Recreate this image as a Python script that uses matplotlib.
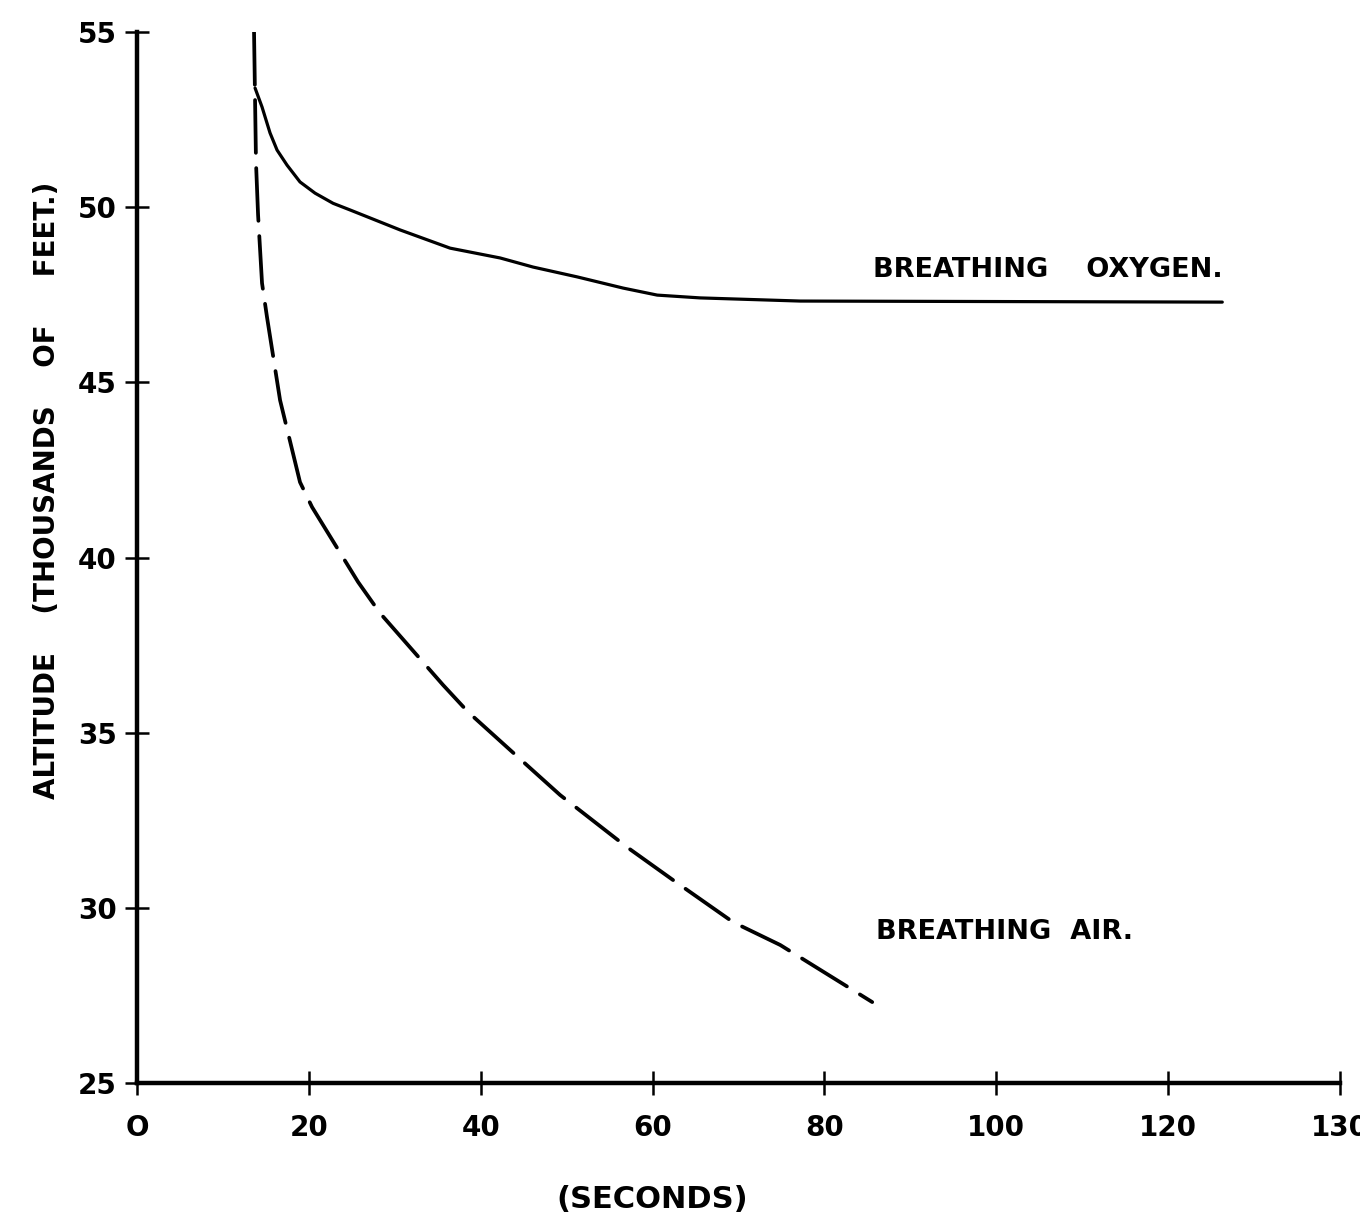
import matplotlib
matplotlib.use("Agg")
import matplotlib.pyplot as plt

# Data (x in seconds on the drawn scale, y in thousands of feet)
oxygen_sec = [13.74, 14.55, 15.48, 16.30, 17.46, 18.97, 20.72, 22.82, 24.80, 30.62, 36.44,
              42.26, 46.10, 51.22, 56.58, 60.54, 65.54, 77.18, 126.3]
oxygen_alt = [53.40, 52.86, 52.12, 51.63, 51.20, 50.72, 50.40, 50.11, 49.92, 49.35, 48.83,
              48.55, 48.29, 48.01, 47.69, 47.49, 47.41, 47.32, 47.29]

air_sec = [13.62, 13.85, 14.09, 14.55, 15.13, 16.65, 18.97, 20.37, 25.73, 28.29, 35.62, 38.53,
           45.75, 49.24, 57.04, 62.40, 69.38, 74.85, 85.56]
air_alt = [55.0, 51.26, 49.78, 47.83, 46.86, 44.49, 42.15, 41.44, 39.30, 38.41, 36.36, 35.59,
           33.99, 33.22, 31.73, 30.79, 29.59, 28.94, 27.31]

x_ticks = [0, 20, 40, 60, 80, 100, 120, 140]
x_tick_labels = ["O", "20", "40", "60", "80", "100", "120", "130"]
y_ticks = [25, 30, 35, 40, 45, 50, 55]
y_tick_labels = ["25", "30", "35", "40", "45", "50", "55"]

plt.rcParams['lines.scale_dashes'] = False
plt.rcParams['font.family'] = ['DejaVu Sans']

fig = plt.figure(figsize=(13.6, 12.27), dpi=100)
ax = fig.add_axes([137/1360, 1 - 1083/1227, (1340-137)/1360, (1083-32)/1227])

ax.plot(oxygen_sec, oxygen_alt, color='black', linewidth=2.3,
        solid_capstyle='round', solid_joinstyle='round')
ax.plot(air_sec, air_alt, color='black', linewidth=2.7, dash_capstyle='round',
        linestyle=(0, (38, 11)))

ax.set_xlim(0, 140)
ax.set_ylim(25, 55)
for s in ['top', 'right']:
    ax.spines[s].set_visible(False)
for s in ['left', 'bottom']:
    ax.spines[s].set_linewidth(3.2)
    ax.spines[s].set_capstyle('projecting')

ax.set_xticks(x_ticks)
ax.set_xticklabels(x_tick_labels, fontsize=20, fontweight='bold')
ax.set_yticks(y_ticks)
ax.set_yticklabels(y_tick_labels, fontsize=20, fontweight='bold')
ax.tick_params(axis='x', direction='inout', length=17, width=1.8, pad=14)
ax.tick_params(axis='y', direction='inout', length=17, width=1.8, pad=6)

ax.set_ylabel("ALTITUDE    (THOUSANDS    OF     FEET.)", fontsize=20, fontweight='bold')
ax.yaxis.set_label_coords(-0.063, 0.564)
ax.set_xlabel("(SECONDS)", fontsize=22, fontweight='bold')
ax.xaxis.set_label_coords(0.428, -0.097)

ax.text(85.6, 48.2, "BREATHING    OXYGEN.", fontsize=19.5, fontweight='bold', ha='left', va='center')
ax.text(86.0, 29.3, "BREATHING  AIR.", fontsize=19.5, fontweight='bold', ha='left', va='center')

fig.savefig("out.png", dpi=100, facecolor='white')
